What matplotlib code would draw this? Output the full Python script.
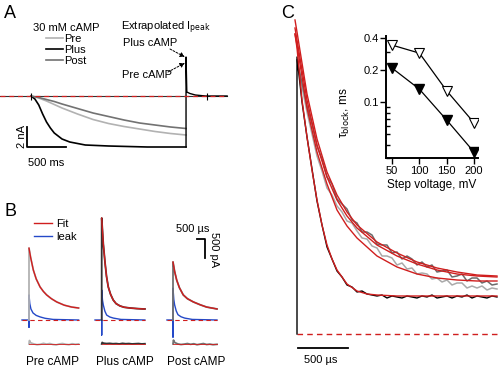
import numpy as np
import matplotlib
matplotlib.use("Agg")
import matplotlib.pyplot as plt

W, H = 500, 369
plt.rcParams['font.family'] = ['Liberation Sans', 'DejaVu Sans']
plt.rcParams['font.size'] = 8
plt.rcParams['mathtext.default'] = 'regular'

RED = '#d01e1e'
BLUE = '#2449c8'
PRE_C = '#b2b2b2'
PLUS_C = 'black'
POST_C = '#727272'
DASH = (0, (4, 3))

# ---- Panel A: currents during 2 s step (ms, nA) ----
a_pre_t = [0, 100, 200, 300, 400, 600, 800, 1000, 1200, 1400, 1600, 1800, 2000]
a_pre_i = [0, -0.2, -0.5, -0.85, -1.2, -1.8, -2.35, -2.75, -3.05, -3.3, -3.55, -3.75, -3.9]
a_post_t = [0, 100, 200, 300, 400, 600, 800, 1000, 1200, 1400, 1600, 1800, 2000]
a_post_i = [0, -0.15, -0.35, -0.55, -0.8, -1.25, -1.7, -2.05, -2.4, -2.7, -2.9, -3.1, -3.25]
a_plus_t = [0, 50, 100, 150, 200, 250, 300, 400, 500, 700, 1000, 1500, 2000]
a_plus_i = [0, -0.3, -0.9, -1.8, -2.6, -3.2, -3.7, -4.3, -4.6, -4.9, -5.0, -5.1, -5.1]
a_tail_t = [2000, 2000, 2010, 2050, 2120, 2250, 2530]
a_tail_i = [-5.1, 3.9, 0.4, 0.25, 0.1, 0, 0]
a_base_t = [-400, 2530]
a_marks_t = [0, 2270]
a_peak_plus = 3.9
a_peak_pre = 3.3

# ---- Panel B: tail currents with fits (ms, pA) ----
b_pre_fit_t = [0, 0.1, 0.27, 0.45, 0.69, 0.9, 1.1, 1.4, 1.73, 2.2, 2.67, 3.1]
b_pre_fit_i = [1890, 1650, 1315, 1080, 870, 750, 660, 560, 475, 390, 340, 315]
b_plus_fit_t = [0, 0.1, 0.21, 0.3, 0.41, 0.55, 0.72, 0.9, 1.14, 1.4, 1.77, 2.2, 2.58, 2.7]
b_plus_fit_i = [2680, 2000, 1500, 1150, 870, 680, 525, 430, 370, 335, 315, 300, 290, 290]
b_post_fit_t = [0, 0.1, 0.23, 0.4, 0.64, 0.9, 1.27, 1.7, 2.1, 2.75]
b_post_fit_i = [1525, 1280, 1050, 850, 660, 560, 475, 400, 340, 290]

b_pre_leak_t = [-0.44, 0, 0, 0, 0.05, 0.12, 0.25, 0.45, 0.7, 1.0, 1.5, 3.1]
b_pre_leak_i = [0, 0, -190, 660, 430, 290, 185, 120, 80, 45, 15, 0]
b_plus_leak_t = [-0.42, 0, 0, 0, 0.05, 0.1, 0.2, 0.31, 0.5, 0.73, 1.2, 2.7]
b_plus_leak_i = [0, 0, -395, 790, 520, 395, 230, 130, 80, 50, 15, 0]
b_post_leak_t = [-0.38, 0, 0, 0, 0.05, 0.1, 0.2, 0.31, 0.5, 0.73, 1.2, 2.75]
b_post_leak_i = [0, 0, -450, 840, 540, 400, 240, 140, 85, 50, 15, 0]

b_pre_res_t = [0, 0.03, 0.1, 0.3, 0.5, 0.7, 0.9, 1.1, 1.3, 1.5, 1.7, 1.9, 2.1, 2.3, 2.5, 2.7, 2.9, 3.1]
b_pre_res_i = [0, 90, 30, 0, -20, -10, 15, -5, 10, -15, -25, 0, 10, -10, -20, 5, -10, 0]
b_plus_res_t = [0, 0.03, 0.1, 0.3, 0.5, 0.7, 0.9, 1.1, 1.3, 1.5, 1.7, 1.9, 2.1, 2.3, 2.5, 2.7]
b_plus_res_i = [0, 40, 20, 10, 15, 5, 10, 0, 15, 5, 10, 0, 5, 10, 0, 5]
b_post_res_t = [0, 0.03, 0.1, 0.3, 0.5, 0.7, 0.9, 1.1, 1.3, 1.5, 1.7, 1.9, 2.1, 2.3, 2.5, 2.75]
b_post_res_i = [0, 100, 40, 0, -15, -5, 10, -10, 5, -20, -5, 10, -15, -5, -20, -10]
b_labels = ['Pre cAMP', 'Plus cAMP', 'Post cAMP']

# ---- Panel C: overlaid tail currents (ms, arbitrary units) ----
c_t = np.round(np.arange(0, 2.001, 0.05), 2)
c_plus = [277, 232, 197, 165, 133, 109, 87, 75, 63, 57, 49, 47, 42, 43, 40, 39, 38, 39, 36, 38,
          37, 36, 38, 37, 36, 38, 37, 39, 36, 37, 38, 36, 38, 37, 39, 36, 38, 37, 36, 38, 37]
c_pre = [274, 247, 222, 200, 178, 163, 146, 139, 128, 122, 113, 111, 103, 96, 95, 88, 86, 78, 78, 76,
         69, 71, 65, 66, 60, 61, 60, 55, 56, 52, 54, 49, 51, 51, 46, 48, 46, 48, 44, 46, 45]
c_post = [274, 251, 228, 210, 188, 175, 157, 150, 135, 130, 125, 114, 111, 102, 102, 99, 90, 89, 89, 81,
          82, 75, 78, 75, 69, 72, 67, 69, 62, 63, 64, 57, 58, 60, 53, 56, 56, 51, 53, 49, 50]
c_fast_fit_t = [-0.02, 0, 0.05, 0.1, 0.15, 0.2, 0.25, 0.3, 0.35, 0.4, 0.5, 0.6, 0.7, 0.8, 1.0, 1.5, 2.0]
c_fast_fit = [300, 286, 234, 197, 164, 134, 109, 89, 75, 64, 50, 43, 40, 39, 38, 38, 38]
c_slow_fit_t = [-0.02, 0, 0.1, 0.2, 0.3, 0.4, 0.5, 0.6, 0.8, 1.0, 1.2, 1.4, 1.6, 1.8, 2.0]
c_fit1 = [300, 289, 226, 182, 150, 124, 108, 96, 78, 67, 60, 56, 54, 53, 53]
c_fit2 = [306, 294, 234, 189, 157, 134, 118, 106, 89, 78, 70, 64, 60, 58, 57]
c_fit3 = [314, 302, 240, 195, 162, 139, 122, 109, 92, 81, 72, 66, 62, 59, 58]

# ---- Panel C inset: block time constants ----
step_mv = [50, 100, 150, 200]
tau_pre = [0.345, 0.29, 0.128, 0.064]
tau_plus = [0.21, 0.133, 0.068, 0.034]


def box(l, t, r, b):
    return [l / W, 1 - b / H, (r - l) / W, (b - t) / H]


def fx(x):
    return x / W


def fy(y):
    return 1 - y / H


fig = plt.figure(figsize=(5, 3.69), dpi=100)

# panel letters
fig.text(fx(4), fy(13), 'A', fontsize=13, va='center')
fig.text(fx(4), fy(211), 'B', fontsize=13, va='center')
fig.text(fx(281), fy(14), 'C', fontsize=13, va='center')

# ================= A =================
axA = fig.add_axes(box(0, 45, 232, 172))
axA.axis('off')
axA.set_xlim(-400, 2593)
axA.set_ylim(-7.6, 5.1)
axA.plot(a_base_t, [0, 0], color='#333333', lw=0.8)
axA.plot(a_pre_t, a_pre_i, color=PRE_C, lw=1.2, label='Pre')
axA.plot(a_plus_t, a_plus_i, color=PLUS_C, lw=1.2, label='Plus')
axA.plot(a_post_t, a_post_i, color=POST_C, lw=1.2, label='Post')
axA.plot(a_tail_t, a_tail_i, color='black', lw=1.0)
axA.plot(a_base_t, [0, 0], color=RED, lw=0.9, ls=DASH)
axA.vlines(a_marks_t, -0.35, 0.35, color='black', lw=0.8)
axA.legend(title='30 mM cAMP', loc='upper left', bbox_to_anchor=(fx(33), fy(23)),
           bbox_transform=fig.transFigure, frameon=False, handlelength=1.5,
           handletextpad=0.1, labelspacing=0.1, borderpad=0, borderaxespad=0,
           title_fontsize=8, fontsize=8)

fig.text(fx(121), fy(28), r'Extrapolated I$_{\mathrm{peak}}$', va='center')
fig.text(fx(123), fy(43), 'Plus cAMP', va='center')
fig.text(fx(122), fy(75), 'Pre cAMP', va='center')
arrow = dict(arrowstyle='-|>', ls=(0, (2, 1.5)), lw=0.7, color='black', mutation_scale=7,
             shrinkA=0, shrinkB=0)
axA.annotate('', xy=(1985, a_peak_plus), xytext=(fx(170), fy(49)),
             textcoords='figure fraction', arrowprops=arrow)
axA.annotate('', xy=(1985, a_peak_pre), xytext=(fx(168), fy(72)),
             textcoords='figure fraction', arrowprops=arrow)

# scale bar 500 ms / 2 nA
sbx, sby = -52, -5.1
axA.plot([sbx, sbx, sbx + 500], [sby + 2, sby, sby], color='black', lw=1.3)
axA.text(sbx - 60, sby + 1, '2 nA', rotation=90, ha='center', va='center')
axA.text(sbx + 250, sby - 1.6, '500 ms', ha='center', va='center')

# ================= B =================
b_sets = [
    (29, b_pre_fit_t, b_pre_fit_i, b_pre_leak_t, b_pre_leak_i, b_pre_res_t, b_pre_res_i, PRE_C),
    (101.7, b_plus_fit_t, b_plus_fit_i, b_plus_leak_t, b_plus_leak_i, b_plus_res_t, b_plus_res_i, '#333333'),
    (173, b_post_fit_t, b_post_fit_i, b_post_leak_t, b_post_leak_i, b_post_res_t, b_post_res_i, POST_C),
]
res_off = -630
b_axes = []
for k, (t0, ft, fi, lt, li, rt, ri, col) in enumerate(b_sets):
    ax = fig.add_axes(box(t0 - 14, 200, t0 + 56, 352))
    ax.axis('off')
    ax.set_xlim(-0.875, 3.5)
    ax.set_ylim(-842, 3156)
    ax.plot(lt, li, color=BLUE, lw=1.0, label='leak')
    ax.plot([lt[0], lt[-1]], [0, 0], color=RED, lw=0.8, ls=DASH)
    ax.plot([0] + ft, [0] + fi, color=col, lw=1.3)
    ax.plot(ft, fi, color=RED, lw=1.0, label='Fit')
    ax.plot(rt, [v + res_off for v in ri], color=col, lw=1.3)
    ax.plot([rt[0], rt[-1]], [res_off, res_off], color=RED, lw=0.6)
    ax.text(1.45, -1105, b_labels[k], ha='center', va='center', fontsize=8.5)
    b_axes.append(ax)

h, l = b_axes[0].get_legend_handles_labels()
b_axes[0].legend([h[1], h[0]], [l[1], l[0]], loc='upper left', bbox_to_anchor=(fx(34), fy(219)),
                 bbox_transform=fig.transFigure, frameon=False, handlelength=1.6,
                 handletextpad=0.4, labelspacing=0.3, borderpad=0, borderaxespad=0)

axp = b_axes[2]
axp.plot([1.5, 2.0, 2.0], [2130, 2130, 1630], color='black', lw=1.3)
axp.text(1.25, 2390, '500 µs', ha='center', va='center')
axp.text(2.55, 1860, '500 pA', rotation=270, ha='center', va='center')

# ================= C =================
axC = fig.add_axes(box(285, 5, 500, 356))
axC.axis('off')
axC.set_xlim(-0.12, 2.03)
axC.set_ylim(-22, 329)
axC.plot([0, 2.03], [0, 0], color=RED, lw=1.0, ls=DASH)
axC.plot(c_t, c_pre, color='#a9a9a9', lw=1.1)
axC.plot(c_t, c_post, color='#6c6c6c', lw=1.1)
axC.plot(np.concatenate([[0], c_t]), [0] + c_plus, color='black', lw=1.0)
axC.plot(c_fast_fit_t, c_fast_fit, color=RED, lw=1.0)
axC.plot(c_slow_fit_t, c_fit1, color=RED, lw=1.0)
axC.plot(c_slow_fit_t, c_fit2, color=RED, lw=1.0)
axC.plot(c_slow_fit_t, c_fit3, color=RED, lw=1.0)
axC.plot([0.01, 0.51], [-14, -14], color='black', lw=1.3)
axC.text(0.24, -26, '500 µs', ha='center', va='center', clip_on=False)

# inset
axI = fig.add_axes(box(386, 36, 478, 158))
axI.set_yscale('log')
axI.plot(step_mv, tau_pre, color='black', lw=0.9, marker='v', ms=7,
         mfc='white', mec='black', mew=0.8)
axI.plot(step_mv, tau_plus, color='black', lw=0.9, marker='v', ms=7,
         mfc='black', mec='black')
axI.set_xlim(39, 207)
axI.set_ylim(0.03, 0.42)
axI.set_xticks(step_mv)
axI.set_yticks([0.1, 0.2, 0.4], ['0.1', '0.2', '0.4'])
axI.set_yticks([0.03, 0.04, 0.05, 0.06, 0.07, 0.08, 0.09, 0.3], minor=True)
axI.yaxis.set_minor_formatter(plt.NullFormatter())
axI.tick_params(axis='y', which='major', direction='out', length=4, width=1, pad=1, labelsize=8)
axI.tick_params(axis='y', which='minor', direction='in', length=3, width=1)
axI.tick_params(axis='x', direction='out', length=4, width=1, pad=2, labelsize=8)
for s in ('top', 'right'):
    axI.spines[s].set_visible(False)
for s in ('left', 'bottom'):
    axI.spines[s].set_linewidth(1.4)
axI.set_xlabel('Step voltage, mV', fontsize=8.5, labelpad=2)
axI.set_ylabel(r'τ$_{\mathrm{block}}$, ms', fontsize=8.5)
axI.yaxis.set_label_coords(-0.37, 0.37)

fig.savefig('out.png', dpi=100)
